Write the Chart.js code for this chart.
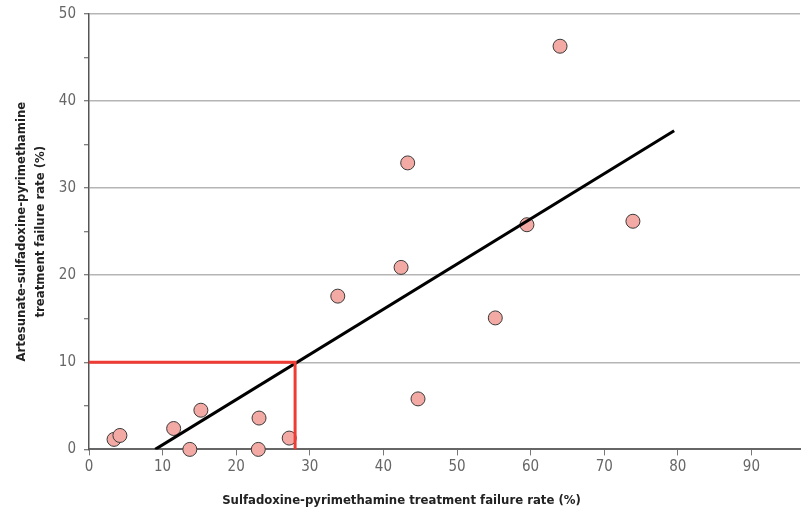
<!DOCTYPE html>
<html>
<head>
<meta charset="utf-8">
<script src="https://cdn.jsdelivr.net/npm/chart.js@4/dist/chart.umd.min.js"></script>
<style>
  html, body { margin: 0; padding: 0; background: #fff; }
  #wrap { width: 803px; height: 509px; position: relative; }
</style>
</head>
<body>
<div id="wrap"><canvas id="c" width="803" height="509"></canvas></div>
<script>
// Treatment failure rates (%) per study site
const spFailure = [3.4, 4.2, 11.5, 13.7, 15.2, 23.0, 23.1, 27.2, 33.8, 42.4, 43.3, 44.7, 55.2, 59.5, 64.0, 73.9];
const asSpFailure = [1.15, 1.6, 2.4, 0.0, 4.5, 0.0, 3.6, 1.3, 17.6, 20.9, 32.9, 5.8, 15.1, 25.8, 46.3, 26.2];

// Linear fit endpoints
const fitX = [9.0, 79.5];
const fitY = [0.0, 36.6];

// 10% AS+SP failure threshold and the matching SP failure rate
const thresholdX = [0, 28, 28];
const thresholdY = [10, 10, 0];

const xTicks = [0, 10, 20, 30, 40, 50, 60, 70, 80, 90];
const yTicks = [0, 5, 10, 15, 20, 25, 30, 35, 40, 45, 50];
const X_MAX = 96.6;

const FONT = "'DejaVu Sans Condensed', 'Liberation Sans Narrow', 'Arial Narrow', sans-serif";

const toPoints = (xs, ys) => xs.map((x, i) => ({ x, y: ys[i] }));

new Chart(document.getElementById('c'), {
  type: 'scatter',
  data: {
    datasets: [
      {
        label: 'Sites',
        data: toPoints(spFailure, asSpFailure),
        pointRadius: 7,
        pointBackgroundColor: '#f4aaa4',
        pointBorderColor: '#3a3a3a',
        pointBorderWidth: 1,
        clip: false,
        order: 3
      },
      {
        label: 'Fit',
        data: toPoints(fitX, fitY),
        showLine: true,
        borderColor: '#000',
        borderWidth: 3,
        pointRadius: 0,
        order: 2
      },
      {
        label: 'Threshold',
        data: toPoints(thresholdX, thresholdY),
        showLine: true,
        borderColor: '#ee3b33',
        borderWidth: 3,
        pointRadius: 0,
        order: 1
      }
    ]
  },
  options: {
    responsive: false,
    animation: false,
    layout: { autoPadding: false, padding: { top: 14, right: 0, left: 0, bottom: 0 } },
    plugins: {
      legend: { display: false },
      tooltip: { enabled: false },
      title: {
        display: true,
        position: 'bottom',
        text: 'Sulfadoxine-pyrimethamine treatment failure rate (%)',
        color: '#222',
        font: { family: FONT, size: 13, weight: 'bold' },
        padding: { top: 9, bottom: 1 }
      }
    },
    scales: {
      x: {
        type: 'linear',
        min: 0,
        max: X_MAX,
        // labelled ticks plus an unlabelled one at the right edge
        afterBuildTicks: (s) => { s.ticks = xTicks.concat([X_MAX]).map(v => ({ value: v })); },
        afterFit: (s) => { s.height = 34; },
        border: { display: true, color: '#666', width: 2 },
        grid: {
          drawOnChartArea: false,
          drawTicks: true,
          tickLength: 6,
          tickColor: (ctx) => (ctx.tick && xTicks.includes(ctx.tick.value)) ? '#777' : 'rgba(0,0,0,0)',
          tickWidth: 1
        },
        ticks: {
          padding: 3,
          color: '#666',
          font: { family: FONT, size: 15 },
          maxRotation: 0,
          callback: (v) => (xTicks.includes(v) ? String(v) : '')
        }
      },
      y: {
        type: 'linear',
        min: 0,
        max: 50,
        afterBuildTicks: (s) => { s.ticks = yTicks.map(v => ({ value: v })); },
        afterFit: (s) => { s.width = 89; s.paddingTop = 0; s.paddingBottom = 0; },
        border: { display: true, color: '#555', width: 1.5 },
        grid: {
          color: (ctx) => (ctx.tick && ctx.tick.value % 10 === 0 && ctx.tick.value !== 0) ? '#b5b5b5' : 'rgba(0,0,0,0)',
          lineWidth: 1.5,
          drawTicks: true,
          tickLength: 5,
          tickColor: '#555',
          tickWidth: 1
        },
        ticks: {
          padding: 8,
          color: '#666',
          font: { family: FONT, size: 15 },
          callback: (v) => (v % 10 === 0 ? String(v) : '')
        },
        title: {
          display: true,
          text: ['Artesunate-sulfadoxine-pyrimethamine', 'treatment failure rate (%)'],
          color: '#222',
          font: { family: FONT, size: 13, weight: 'bold', lineHeight: 1.45 },
          padding: { top: 12, bottom: 0 }
        }
      }
    }
  }
});
</script>
</body>
</html>
